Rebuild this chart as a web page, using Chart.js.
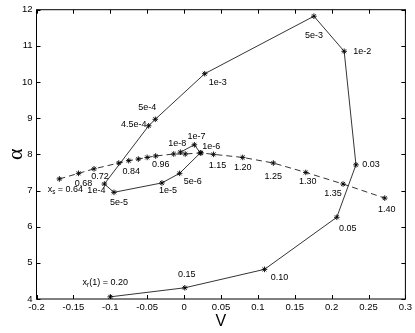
<!DOCTYPE html>
<html><head><meta charset="utf-8">
<script src="https://cdn.jsdelivr.net/npm/chart.js@4"></script>
<style>html,body{margin:0;padding:0;background:#fff}#wrap{width:415px;height:333px;position:relative}</style>
</head><body><div id="wrap"><canvas id="c"></canvas></div>
<script>
// ---- data ----
const solidX = [-0.100, 0.001, 0.109, 0.207, 0.233, 0.217, 0.176, 0.028, -0.039, -0.048, -0.108, -0.095, -0.030, -0.006, 0.022, 0.014, -0.005];
const solidY = [4.06, 4.31, 4.82, 6.26, 7.71, 10.85, 11.82, 10.23, 8.97, 8.79, 7.18, 6.95, 7.21, 7.475, 8.04, 8.265, 8.06];
const solidLabels = ['x_r(1) = 0.20', '0.15', '0.10', '0.05', '0.03', '1e-2', '5e-3', '1e-3', '5e-4', '4.5e-4', '1e-4', '5e-5', '1e-5', '5e-6', '1e-6', '1e-7', '1e-8'];
const dashedX = [-0.169, -0.143, -0.122, -0.0885, -0.075, -0.062, -0.050, -0.0385, -0.014, 0.0016, 0.023, 0.040, 0.0795, 0.121, 0.165, 0.2155, 0.272];
const dashedY = [7.32, 7.475, 7.60, 7.76, 7.825, 7.87, 7.915, 7.955, 8.01, 8.01, 8.04, 8.00, 7.915, 7.76, 7.50, 7.18, 6.79];
const dashedLabels = ['x_s = 0.64', '0.68', '0.72', '', '', '0.84', '', '', '0.96', '', '', '1.15', '1.20', '1.25', '1.30', '1.35', '1.40'];
const xTickValues = [-0.2, -0.15, -0.1, -0.05, 0, 0.05, 0.1, 0.15, 0.2, 0.25, 0.3];
const yTickValues = [4, 5, 6, 7, 8, 9, 10, 11, 12];
const xTitle = 'V';
const yTitle = 'α';

// ---- label placement (pixel offsets of label centre from its point) ----
const solidLabelOffsets = [[-5,-14],[2,-13],[15,8],[11,11],[15,0],[18,0],[0,19],[13,9],[-8,-12],[-15,-1],[-8,7],[5,10],[6,8],[13,8],[11,-6],[2,-8],[-3,-9]];
const dashedLabelOffsets = [[6,11],[5,10],[6,8],null,null,[-7,12],null,null,[-13,11],null,null,[4,11],[0,10],[0,13],[2,9],[-10,10],[2,11]];

const FONT = '"Liberation Sans", Arial, Helvetica, sans-serif';

function pts(xs, ys){ return xs.map((x,i)=>({x:x, y:ys[i]})); }

function drawRich(ctx, text, cx, cy, size){
  const parts = [];
  for (let i=0;i<text.length;i++){
    if (text[i]==='_' && i+1<text.length){ parts.push({t:text[i+1], sub:true}); i++; }
    else {
      if (parts.length && !parts[parts.length-1].sub) parts[parts.length-1].t += text[i];
      else parts.push({t:text[i], sub:false});
    }
  }
  const subSize = size*0.7;
  let w = 0;
  parts.forEach(p=>{ ctx.font = (p.sub?subSize:size)+'px '+FONT; p.w = ctx.measureText(p.t).width; w += p.w; });
  let x = cx - w/2;
  ctx.textAlign = 'left'; ctx.textBaseline = 'middle';
  parts.forEach(p=>{
    ctx.font = (p.sub?subSize:size)+'px '+FONT;
    ctx.fillText(p.t, x, cy + (p.sub ? size*0.3 : 0));
    x += p.w;
  });
}

const decor = {
  id: 'decor',
  afterDatasetsDraw(chart){
    const ctx = chart.ctx, a = chart.chartArea;
    const xs = chart.scales.x, ys = chart.scales.y;
    ctx.save();
    ctx.strokeStyle = '#000'; ctx.lineWidth = 1;
    ctx.strokeRect(a.left, a.top, a.right - a.left, a.bottom - a.top);
    const tl = 4;
    ctx.beginPath();
    xTickValues.forEach(v=>{
      const px = Math.round(xs.getPixelForValue(v)) + 0.5;
      ctx.moveTo(px, a.bottom); ctx.lineTo(px, a.bottom - tl);
      ctx.moveTo(px, a.top); ctx.lineTo(px, a.top + tl);
    });
    yTickValues.forEach(v=>{
      const py = Math.round(ys.getPixelForValue(v)) + 0.5;
      ctx.moveTo(a.left, py); ctx.lineTo(a.left + tl, py);
      ctx.moveTo(a.right, py); ctx.lineTo(a.right - tl, py);
    });
    ctx.stroke();
    ctx.fillStyle = '#000';
    const sets = [[0, solidLabels, solidLabelOffsets],[1, dashedLabels, dashedLabelOffsets]];
    sets.forEach(([di, labels, offs])=>{
      const meta = chart.getDatasetMeta(di);
      meta.data.forEach((el,i)=>{
        if (!labels[i] || !offs[i]) return;
        drawRich(ctx, labels[i], el.x + offs[i][0], el.y + offs[i][1], 9);
      });
    });
    ctx.restore();
  }
};

new Chart(document.getElementById('c'), {
  type: 'scatter',
  data: {
    datasets: [
      { data: pts(solidX, solidY), showLine: true, borderColor: '#000', borderWidth: 0.8,
        pointStyle: 'star', pointRadius: 2.8, pointBorderWidth: 0.9, pointBorderColor: '#000', pointBackgroundColor: '#000' },
      { data: pts(dashedX, dashedY), showLine: true, borderColor: '#000', borderWidth: 0.8, borderDash: [6,4],
        pointStyle: 'star', pointRadius: 2.8, pointBorderWidth: 0.9, pointBorderColor: '#000', pointBackgroundColor: '#000' }
    ]
  },
  options: {
    responsive: true, maintainAspectRatio: false, animation: false,
    devicePixelRatio: 1,
    layout: { padding: { top: 8, right: 8.5, left: 0, bottom: 0 } },
    plugins: { legend: { display: false }, tooltip: { enabled: false } },
    scales: {
      x: {
        type: 'linear', min: -0.2, max: 0.3,
        afterBuildTicks: s => { s.ticks = xTickValues.map(v=>({value:v})); },
        afterFit: s => { s.height = 34; },
        grid: { display: false, drawTicks: false },
        border: { display: false },
        ticks: { color: '#000', padding: 3, maxRotation: 0, autoSkip: false,
          font: { family: FONT, size: 9.5 },
          callback: v => String(Number(v.toFixed(2))) },
        title: { display: true, text: xTitle, color: '#000', font: { family: FONT, size: 16 }, padding: { top: 0, bottom: 1.5 } }
      },
      y: {
        type: 'linear', min: 4, max: 12,
        afterBuildTicks: s => { s.ticks = yTickValues.map(v=>({value:v})); },
        afterFit: s => { s.width = 36.5; },
        grid: { display: false, drawTicks: false },
        border: { display: false },
        ticks: { color: '#000', padding: 4, autoSkip: false,
          font: { family: FONT, size: 9.5 },
          callback: v => String(v) },
        title: { display: true, text: yTitle, color: '#000', font: { family: '"Liberation Serif", serif', size: 22 }, padding: { top: 3, bottom: 0 } }
      }
    }
  },
  plugins: [decor]
});
</script>
</body></html>
